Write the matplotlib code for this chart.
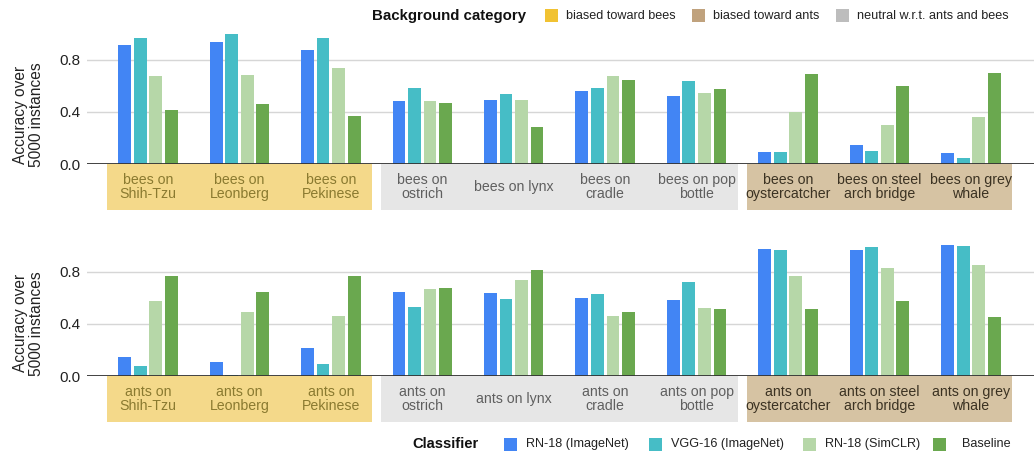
import numpy as np
import matplotlib
matplotlib.use("Agg")
import matplotlib.pyplot as plt
from matplotlib.patches import Rectangle
from matplotlib.transforms import blended_transform_factory

plt.rcParams['font.family'] = ['Liberation Sans', 'DejaVu Sans']

backgrounds = ["Shih-Tzu", "Leonberg", "Pekinese", "ostrich", "lynx", "cradle",
               "pop bottle", "oystercatcher", "steel arch bridge", "grey whale"]
bee_labels = ["bees on\nShih-Tzu", "bees on\nLeonberg", "bees on\nPekinese", "bees on\nostrich",
              "bees on lynx", "bees on\ncradle", "bees on pop\nbottle", "bees on\noystercatcher",
              "bees on steel\narch bridge", "bees on grey\nwhale"]
ant_labels = ["ants on\nShih-Tzu", "ants on\nLeonberg", "ants on\nPekinese", "ants on\nostrich",
              "ants on lynx", "ants on\ncradle", "ants on pop\nbottle", "ants on\noystercatcher",
              "ants on steel\narch bridge", "ants on grey\nwhale"]
# background category of each column: 0 = bees, 1 = neutral, 2 = ants
bg_group = [0, 0, 0, 1, 1, 1, 1, 2, 2, 2]

classifiers = ["RN-18 (ImageNet)", "VGG-16 (ImageNet)", "RN-18 (SimCLR)", "Baseline"]

bees_rn18 = [0.912, 0.933, 0.876, 0.482, 0.492, 0.563, 0.525, 0.092, 0.148, 0.084]
bees_vgg16 = [0.968, 0.996, 0.968, 0.581, 0.535, 0.581, 0.637, 0.092, 0.102, 0.048]
bees_simclr = [0.673, 0.683, 0.739, 0.482, 0.489, 0.673, 0.543, 0.400, 0.298, 0.362]
bees_base = [0.415, 0.461, 0.369, 0.471, 0.285, 0.645, 0.573, 0.690, 0.599, 0.700]

ants_rn18 = [0.148, 0.112, 0.214, 0.645, 0.634, 0.599, 0.581, 0.976, 0.968, 1.004]
ants_vgg16 = [0.076, 0.010, 0.094, 0.527, 0.591, 0.627, 0.718, 0.968, 0.986, 0.996]
ants_simclr = [0.573, 0.489, 0.461, 0.665, 0.736, 0.459, 0.525, 0.764, 0.828, 0.848]
ants_base = [0.764, 0.645, 0.764, 0.673, 0.810, 0.489, 0.517, 0.517, 0.573, 0.451]

bar_colors = ["#4285f4", "#46bdc6", "#b6d7a8", "#6aa84f"]
cat_names = ["biased toward bees", "biased toward ants", "neutral w.r.t. ants and bees"]
cat_legend_colors = ["#f1c232", "#c0a27d", "#bdbdbd"]
# box fill / text colour per group (bees, neutral, ants)
box_fill = ["#f4d98a", "#e6e6e6", "#d6c3a3"]
box_text = ["#8a7a30", "#5f5f5f", "#3b3222"]

W, H = 1034, 455
fig = plt.figure(figsize=(W / 100, H / 100), dpi=100)

ymax = 1.05
px_per_unit = 130.8
ax_h = ymax * px_per_unit
x_left, x_right = 87, 1034
xlim = (-0.667, 9.69)


def make_axes(zero_px):
    return fig.add_axes([x_left / W, 1 - zero_px / H, (x_right - x_left) / W, ax_h / H])


def draw_panel(ax, series, labels, label_y):
    x = np.arange(len(labels))
    pitch, width = 0.17, 0.14
    for i, vals in enumerate(series):
        ax.bar(x + (i - 1.5) * pitch, vals, width=width, color=bar_colors[i], zorder=3)
    ax.set_xlim(*xlim)
    ax.set_ylim(0, ymax)
    ax.set_yticks([0.0, 0.4, 0.8])
    ax.set_yticklabels(["0.0", "0.4", "0.8"], fontsize=11, color="#222222")
    ax.tick_params(axis="y", length=0, pad=5)
    ax.set_xticks([])
    for s in ax.spines.values():
        s.set_visible(False)
    for v in [0.4, 0.8]:
        ax.axhline(v, color="#d6d6d6", lw=1, zorder=1)
    ax.axhline(0, color="#333333", lw=1.3, zorder=4)
    ax.set_ylabel("Accuracy over\n5000 instances", fontsize=11.2, color="#222222",
                  linespacing=1.05)
    # label anchor is its right-hand side once rotated
    ax.yaxis.set_label_coords((44 - x_left) / (x_right - x_left), label_y)

    # coloured category boxes under the axis
    tr = blended_transform_factory(ax.transData, ax.transAxes)
    box_h = 46 / ax_h
    start = 0
    for k in range(1, len(bg_group) + 1):
        if k == len(bg_group) or bg_group[k] != bg_group[start]:
            g = bg_group[start]
            left = start - 0.5 + 0.05
            right = k - 1 + 0.5 - 0.05
            ax.add_patch(Rectangle((left, -box_h), right - left, box_h, transform=tr,
                                   facecolor=box_fill[g], edgecolor="none", clip_on=False))
            start = k
    for i, lab in enumerate(labels):
        ax.text(i, -0.165, lab, transform=tr, ha="center", va="center", fontsize=10.2,
                color=box_text[bg_group[i]], linespacing=1.0, clip_on=False)


ax_top = make_axes(164.3)
draw_panel(ax_top, [bees_rn18, bees_vgg16, bees_simclr, bees_base], bee_labels, 0.36)
ax_bot = make_axes(376.3)
draw_panel(ax_bot, [ants_rn18, ants_vgg16, ants_simclr, ants_base], ant_labels, 0.385)


def legend_row(title, title_x, y_px, names, colors, square_x, text_x, title_size):
    fy = 1 - y_px / H
    fig.text(title_x / W, fy, title, fontsize=title_size, fontweight="bold", va="center",
             color="#111111")
    for name, c, sx, tx in zip(names, colors, square_x, text_x):
        fig.patches.append(Rectangle((sx / W, fy - 6.5 / H), 13 / W, 13 / H, transform=fig.transFigure,
                                     facecolor=c, edgecolor="none"))
        fig.text(tx / W, fy, name, fontsize=9.1, va="center", color="#222222")


legend_row("Background category", 372, 16, cat_names, cat_legend_colors,
           [545, 692, 836], [566, 713, 857], 10.8)
legend_row("Classifier", 412, 444, classifiers, bar_colors,
           [504, 649, 803, 933], [526, 671, 825, 962], 10.6)

fig.savefig("out.png", dpi=100)
